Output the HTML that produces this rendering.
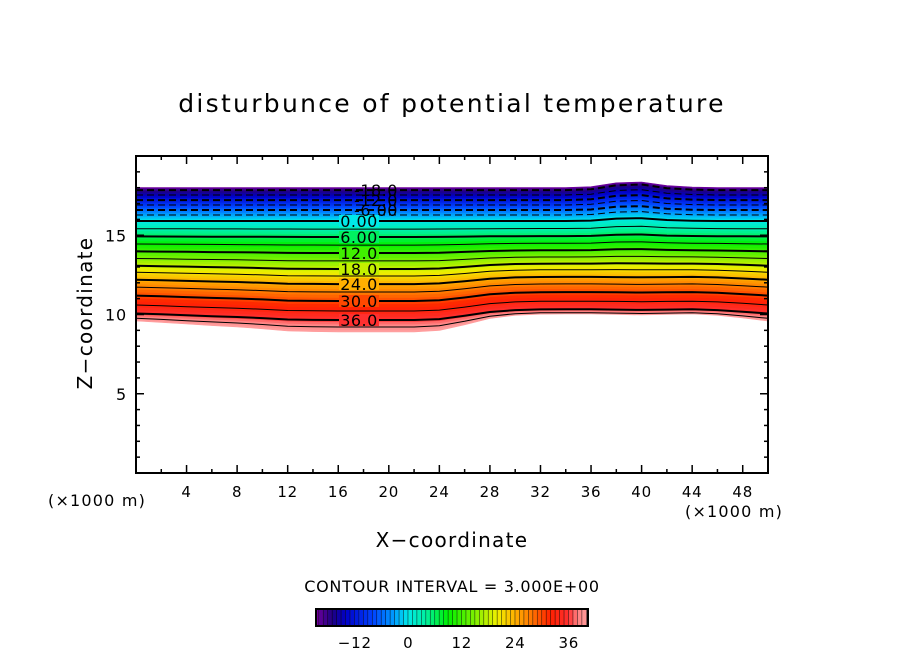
<!DOCTYPE html>
<html><head><meta charset="utf-8"><style>
body{margin:0;background:#fff;}
svg text{font-family:"DejaVu Sans","Liberation Sans",sans-serif;fill:#000;}
</style></head><body>
<svg id="chart" width="904" height="654" xmlns="http://www.w3.org/2000/svg">
<text x="452" y="112" font-size="25" text-anchor="middle" letter-spacing="2.3">disturbunce of potential temperature</text>
<g id="plot"></g>
<g id="axes"></g>
<text transform="translate(92,313) rotate(-90)" font-size="20" text-anchor="middle" letter-spacing="1.3">Z−coordinate</text>
<text x="452" y="547" font-size="20" text-anchor="middle" letter-spacing="1.3">X−coordinate</text>
<text x="48" y="506" font-size="16" letter-spacing="1.2">(×1000 m)</text>
<text x="685" y="517" font-size="16" letter-spacing="1.2">(×1000 m)</text>
<text x="452" y="592" font-size="16" text-anchor="middle" letter-spacing="0.7">CONTOUR INTERVAL = 3.000E+00</text>
<g id="cbar"></g>
</svg>
<script>
const xs=[0,2,4,6,8,10,12,14,16,18,20,22,24,26,28,30,32,34,36,38,40,42,44,46,48,50];
const lowShift=[0.69,0.6,0.5,0.4,0.32,0.2,0.06,0.02,0,0,0,0,0.1,0.45,0.85,1.05,1.12,1.13,1.13,1.1,1.07,1.1,1.13,1.05,0.88,0.69];
const bumpShift=[0,0,0,0,0,0,0,0,0,0,0,0,0,0,0,0,0,0,0.05,0.3,0.35,0.12,0.03,0,0,0];
const levels=[-21,-18,-15,-12,-9,-6,-3,0,3,6,9,12,15,18,21,24,27,30,33,36,39,40.5];
const baseZ=[18.01,17.85,17.54,17.22,16.91,16.59,16.28,15.9,15.39,14.89,14.38,13.88,13.38,12.87,12.43,11.92,11.42,10.85,10.22,9.65,9.21,8.9];
const lowW=[0,0,0,0,0,0,0,0,0.03,0.05,0.1,0.15,0.22,0.3,0.35,0.4,0.45,0.5,0.55,0.6,0.8,1];
const bumpW=[1,1,0.95,0.9,0.8,0.7,0.6,0.5,0.4,0.3,0.27,0.25,0.15,0.1,0.05,0,0,0,0,0,0,0];
const xTicks=[4,8,12,16,20,24,28,32,36,40,44,48];
const yTicks=[5,10,15];
const cbTicks=[-12,0,12,24,36];
const labelLevels=[36,30,24,18,12,6,0,-6,-12,-18];
const labelText=["36.0","30.0","24.0","18.0","12.0","6.00","0.00","-6.00","-12.0","-18.0"];

const X0=136,X1=768,Y0=473,Y1=156;
const sx=x=>X0+(x-0)/(50-0)*(X1-X0);
const sy=z=>Y0-(z-0)/(20-0)*(Y0-Y1);
const NS="http://www.w3.org/2000/svg";
function mk(t,a,p){const e=document.createElementNS(NS,t);for(const k in a)e.setAttribute(k,a[k]);p.appendChild(e);return e;}
const stops=[[-21,[122,0,160]],[-17,[30,0,130]],[-14,[0,0,200]],[-8,[0,64,255]],[-3,[0,160,255]],[0,[0,232,232]],[4,[0,240,160]],[9,[0,240,0]],[15,[128,240,0]],[20,[240,240,0]],[24,[255,176,0]],[28,[255,112,0]],[32,[255,32,0]],[36,[255,48,48]],[38,[255,128,128]],[40.5,[255,160,160]]];
function col(v){if(v<=stops[0][0])return 'rgb('+stops[0][1]+')';for(let i=1;i<stops.length;i++){if(v<=stops[i][0]){const a=stops[i-1],b=stops[i],t=(v-a[0])/(b[0]-a[0]);return 'rgb('+a[1].map((c,j)=>Math.round(c+(b[1][j]-c)*t)).join(',')+')';}}return 'rgb('+stops[stops.length-1][1]+')';}
function lvlParams(v){for(let i=1;i<levels.length;i++){if(v<=levels[i]+1e-9){const t=(v-levels[i-1])/(levels[i]-levels[i-1]);return [baseZ[i-1]+(baseZ[i]-baseZ[i-1])*t,lowW[i-1]+(lowW[i]-lowW[i-1])*t,bumpW[i-1]+(bumpW[i]-bumpW[i-1])*t];}}return [baseZ[baseZ.length-1],1,0];}
function curve(v){const p=lvlParams(v);return xs.map((x,i)=>[sx(x),sy(p[0]+lowShift[i]*p[1]+bumpShift[i]*p[2])]);}
const plot=document.getElementById('plot');
const vmin=levels[0],vmax=levels[levels.length-1];
for(let v=vmin;v<vmax;v+=1){
  const v2=Math.min(v+1,vmax);
  const a=curve(v),b=curve(v2).reverse();
  const pts=a.concat(b).map(p=>p[0].toFixed(1)+','+p[1].toFixed(1)).join(' ');
  const e=mk('polygon',{points:pts,fill:col((v+v2)/2),stroke:col((v+v2)/2),'stroke-width':0.6},plot);
  
  
}
for(let v=-18;v<=39;v+=3){
  const c=curve(v);
  const a={points:c.map(p=>p[0].toFixed(1)+','+p[1].toFixed(1)).join(' '),fill:'none',stroke:'#000','stroke-width':(v%6===0)?2:1};
  if(v<0)a['stroke-dasharray']='7,4';
  const e=mk('polyline',a,plot);
  
  
}
labelLevels.forEach((v,i)=>{
  const neg=v<0;
  const lx=neg?376:359;
  const p=lvlParams(v);
  const y=sy(p[0]+lowShift[8]*p[1]);
  if(!neg){
    const r=mk('rect',{x:lx-20,y:y-6,width:40,height:12,fill:col(v)},plot);
    
    
  }
  const t=mk('text',{x:lx,y:y+6,'font-size':16,'text-anchor':'middle','letter-spacing':0.5},plot);
  t.textContent=labelText[i];
  
  
});
const ax=document.getElementById('axes');
const fr=mk('rect',{x:X0,y:Y1,width:X1-X0,height:Y0-Y1,fill:'none',stroke:'#000','stroke-width':2},ax);


for(let x=2;x<50;x+=2){
  const L=(x%4===0)?8:4;
  mk('line',{x1:sx(x),x2:sx(x),y1:Y0,y2:Y0-L,stroke:'#000','stroke-width':1.5},ax);
  mk('line',{x1:sx(x),x2:sx(x),y1:Y1,y2:Y1+L,stroke:'#000','stroke-width':1.5},ax);
}
for(let z=1;z<20;z++){
  const L=(z%5===0)?8:4;
  mk('line',{x1:X0,x2:X0+L,y1:sy(z),y2:sy(z),stroke:'#000','stroke-width':1.5},ax);
  mk('line',{x1:X1,x2:X1-L,y1:sy(z),y2:sy(z),stroke:'#000','stroke-width':1.5},ax);
}
xTicks.forEach(x=>{const t=mk('text',{x:sx(x),y:497,'font-size':15,'text-anchor':'middle','letter-spacing':0.8},ax);t.textContent=x;

});
yTicks.forEach(z=>{const t=mk('text',{x:127,y:sy(z)+6,'font-size':16,'text-anchor':'end','letter-spacing':0.8},ax);t.textContent=z;

});
const cb=document.getElementById('cbar');
const CX0=316,CX1=588,CY=609,CH=17,cv0=-20.7,cv1=40.3;
const cs=v=>CX0+(v-cv0)/(cv1-cv0)*(CX1-CX0);
for(let v=-21;v<41;v+=1){
  const a=Math.max(cs(v),CX0),b=Math.min(cs(v+1),CX1);
  if(b<=a)continue;
  const e=mk('rect',{x:a,y:CY,width:b-a,height:CH,fill:col(v+0.5)},cb);
  
  
  mk('line',{x1:b,x2:b,y1:CY,y2:CY+CH,stroke:'#000','stroke-width':1.3,opacity:0.7},cb);
}
mk('rect',{x:CX0,y:CY,width:CX1-CX0,height:CH,fill:'none',stroke:'#000','stroke-width':2},cb);
cbTicks.forEach(v=>{const t=mk('text',{x:cs(v),y:648,'font-size':15,'text-anchor':'middle','letter-spacing':0.8},cb);t.textContent=v<0?'−'+(-v):v;

});
</script>
</body></html>
